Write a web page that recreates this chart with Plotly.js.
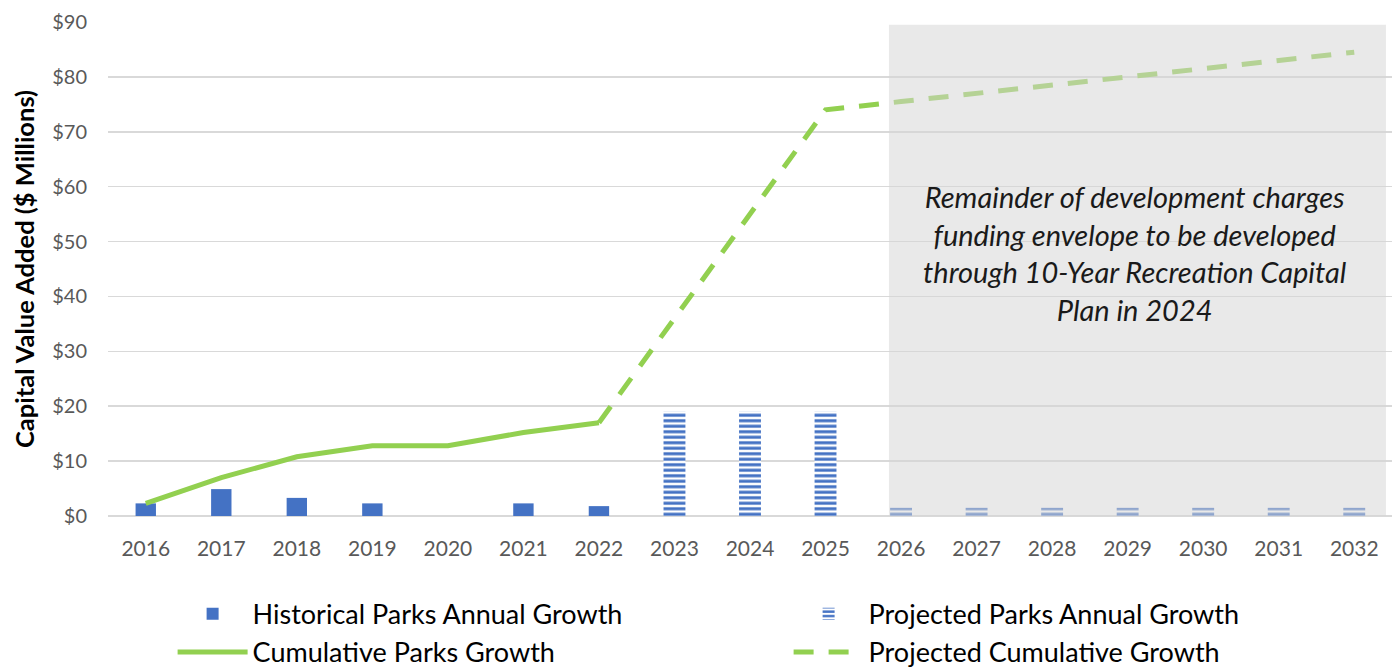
<!DOCTYPE html>
<html>
<head>
<meta charset="utf-8">
<script src="https://cdn.plot.ly/plotly-3.0.1.min.js"></script>
<style>html,body{margin:0;padding:0;background:#fff;}#chart{width:1392px;height:671px;}</style>
</head>
<body>
<div id="chart"></div>
<script>
const years = ['2016','2017','2018','2019','2020','2021','2022','2023','2024','2025','2026','2027','2028','2029','2030','2031','2032'];
const histYears = ['2016','2017','2018','2019','2020','2021','2022'];
const histGrowth = [2.3, 4.9, 3.3, 2.3, 0, 2.3, 1.8];
const projYears = ['2023','2024','2025','2026','2027','2028','2029','2030','2031','2032'];
const projGrowth = [19, 19, 19, 1.5, 1.5, 1.5, 1.5, 1.5, 1.5, 1.5];
const cumYears = ['2016','2017','2018','2019','2020','2021','2022'];
const cumGrowth = [2.3, 7.0, 10.8, 12.8, 12.8, 15.2, 17.0];
const projCumYears = ['2022','2023','2024','2025','2026','2027','2028','2029','2030','2031','2032'];
const projCumGrowth = [17.0, 36.0, 55.0, 74.0, 75.5, 77.0, 78.5, 80.0, 81.5, 83.0, 84.5];
const yTicks = [0,10,20,30,40,50,60,70,80,90];
const yTickText = ['$0','$10','$20','$30','$40','$50','$60','$70','$80','$90'];

const FONT = 'Lato, Carlito, Calibri, sans-serif';
const BLUE = '#4472c4';
const GREEN = '#92d050';

const traces = [
  {type:'bar', name:'Historical Parks Annual Growth', x:histYears, y:histGrowth,
   width:0.27, marker:{color:BLUE}},
  {type:'bar', name:'Projected Parks Annual Growth', x:projYears, y:projGrowth,
   width:0.29, marker:{color:'#ffffff', pattern:{shape:'-', fgcolor:BLUE, bgcolor:'#ffffff', size:5.5, solidity:0.55, fillmode:'replace'}}},
  {type:'scatter', mode:'lines', name:'Cumulative Parks Growth', x:cumYears, y:cumGrowth,
   line:{color:GREEN, width:5}},
  {type:'scatter', mode:'lines', name:'Projected Cumulative Growth', x:projCumYears, y:projCumGrowth,
   line:{color:GREEN, width:5, dash:'20px,15px'}}
];

const layout = {
  width:1392, height:671,
  margin:{l:108, r:0, t:22, b:155},
  paper_bgcolor:'#ffffff', plot_bgcolor:'#ffffff',
  barmode:'overlay',
  showlegend:true,
  font:{family:FONT, color:'#595959'},
  xaxis:{type:'category', categoryorder:'array', categoryarray:years, range:[-0.5,16.5],
    showgrid:false, zeroline:false, showline:false, ticks:'', ticklabelstandoff:18,
    tickfont:{family:FONT, size:21, color:'#595959'}, fixedrange:true},
  yaxis:{range:[0,90], tickvals:yTicks, ticktext:yTickText, showgrid:true, gridcolor:'#d9d9d9', gridwidth:1.5,
    zeroline:true, zerolinecolor:'#d9d9d9', zerolinewidth:2, ticks:'', ticklabelstandoff:20,
    tickfont:{family:FONT, size:20, color:'#595959'},
    title:{text:'<b>Capital Value Added ($ Millions)</b>', font:{family:FONT, size:25.5, color:'#000000'}, standoff:10}},
  legend:{orientation:'h', xref:'container', yref:'container', x:0.124, y:0.121, xanchor:'left', yanchor:'top',
    entrywidth:531, entrywidthmode:'pixels', itemwidth:70, tracegroupgap:0,
    font:{family:FONT, size:27, color:'#000000'}, bgcolor:'rgba(0,0,0,0)'},
  shapes:[
    {type:'rect', xref:'x', yref:'y', x0:9.84, x1:16.42, y0:0, y1:89.5, layer:'above',
     fillcolor:'rgba(213,213,213,0.52)', line:{width:0}}
  ],
  annotations:[
    {xref:'x', yref:'y', x:13.1, y:48, xanchor:'center', yanchor:'middle', showarrow:false, align:'center',
     text:'<i>Remainder of development charges<br>funding envelope to be developed<br>through 10-Year Recreation Capital<br>Plan in 2024</i>',
     font:{family:FONT, size:29, color:'#1a1a1a'}}
  ]
};

Plotly.newPlot('chart', traces, layout, {displayModeBar:false, staticPlot:true});
</script>
</body>
</html>
